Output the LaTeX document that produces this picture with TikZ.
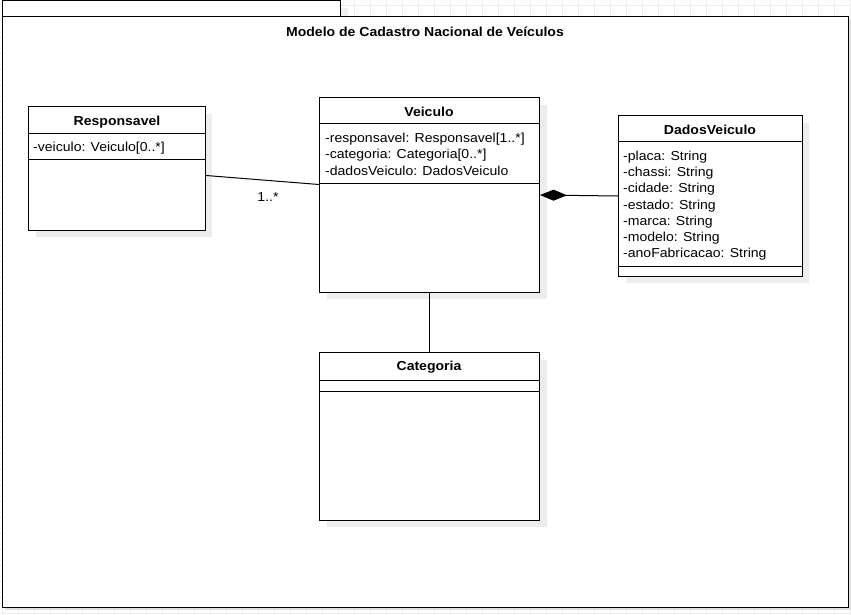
\documentclass[tikz,border=0pt]{standalone}
\usepackage{fontspec}
\setmainfont{Liberation Sans}[FakeStretch=1.08]
\usetikzlibrary{arrows.meta,calc}
\tikzset{
  x=1pt,y=-1pt,
  classbox/.style={draw=black,line width=1pt,fill=white,anchor=north west,inner sep=0pt},
  cname/.style={font=\fontsize{13}{15}\selectfont\bfseries,inner sep=0pt},
  attr/.style={font=\fontsize{13}{16.3}\selectfont,align=left,anchor=north west,inner sep=0pt},
  divider/.style={line width=1pt},
  conn/.style={line width=1pt},
}
\begin{document}
\begin{tikzpicture}
\useasboundingbox (0,0) rectangle (851,615);
\fill[white] (0,0) rectangle (851,615);
% grid
\foreach \i in {0,...,53} {\draw[black!7,line width=0.8pt] ({2+16*\i},0) -- ({2+16*\i},615);}
\foreach \j in {0,...,38} {\draw[black!7,line width=0.8pt] (0,{5+16*\j}) -- (851,{5+16*\j});}
% package frame
\fill[black!12] (5,19) rectangle (851,610);
\fill[black!6] (9,8) rectangle (348,16);
\node[draw=black,line width=1pt,fill=white,anchor=north west,inner sep=0pt,minimum width=338pt,minimum height=16pt] (tab) at (2,0) {};
\node[draw=black,line width=1.4pt,fill=white,anchor=north west,inner sep=0pt,minimum width=846pt,minimum height=591pt] (frame) at (2,16) {};
\node[cname] (title) at (425,31.5) {Modelo de Cadastro Nacional de Veículos};

% Responsavel
\fill[black!7] (36,114) rectangle (212,237);
\node[classbox,minimum width=177pt,minimum height=124pt] (resp) at (28,106) {};
\node[cname] (respname) at (117,122) {Responsavel};
\draw[divider] (28,134) -- (205,134);
\draw[divider] (28,159) -- (205,159);
\node[attr] (respattr) at (33,142) {-veiculo: Veiculo[0..*]};

% Veiculo
\fill[black!7] (327,105) rectangle (547,299);
\node[classbox,minimum width=220pt,minimum height=195pt] (veic) at (319,97) {};
\node[cname] (veicname) at (429,112) {Veiculo};
\draw[divider] (319,124) -- (539,124);
\draw[divider] (319,183) -- (539,183);
\node[attr] (veicattr) at (325,133) {-responsavel: Responsavel[1..*]\\-categoria: Categoria[0..*]\\-dadosVeiculo: DadosVeiculo};

% DadosVeiculo
\fill[black!7] (626,123) rectangle (809,283);
\node[classbox,minimum width=184pt,minimum height=161pt] (dados) at (618,115) {};
\node[cname] (dadosname) at (710,130) {DadosVeiculo};
\draw[divider] (618,142) -- (802,142);
\draw[divider] (618,266) -- (802,266);
\node[attr] (dadosattr) at (623,150.5) {-placa: String\\-chassi: String\\-cidade: String\\-estado: String\\-marca: String\\-modelo: String\\-anoFabricacao: String};

% Categoria
\fill[black!7] (327,360) rectangle (547,527);
\node[classbox,minimum width=220pt,minimum height=168pt] (cat) at (319,352) {};
\node[cname] (catname) at (429,367) {Categoria};
\draw[divider] (319,380) -- (539,380);
\draw[divider] (319,391) -- (539,391);

% connectors
\draw[conn] ([yshift=-7pt]resp.east) -- ([yshift=10.5pt]veic.west);
\node[font=\fontsize{13}{15}\selectfont,inner sep=0pt] (mult) at (268,197.5) {1..*};
\draw[conn,-{Diamond[length=27pt,width=11pt]}] (dados.west) -- (veic.east);
\draw[conn] (veic.south) -- (cat.north);
\end{tikzpicture}
\end{document}
